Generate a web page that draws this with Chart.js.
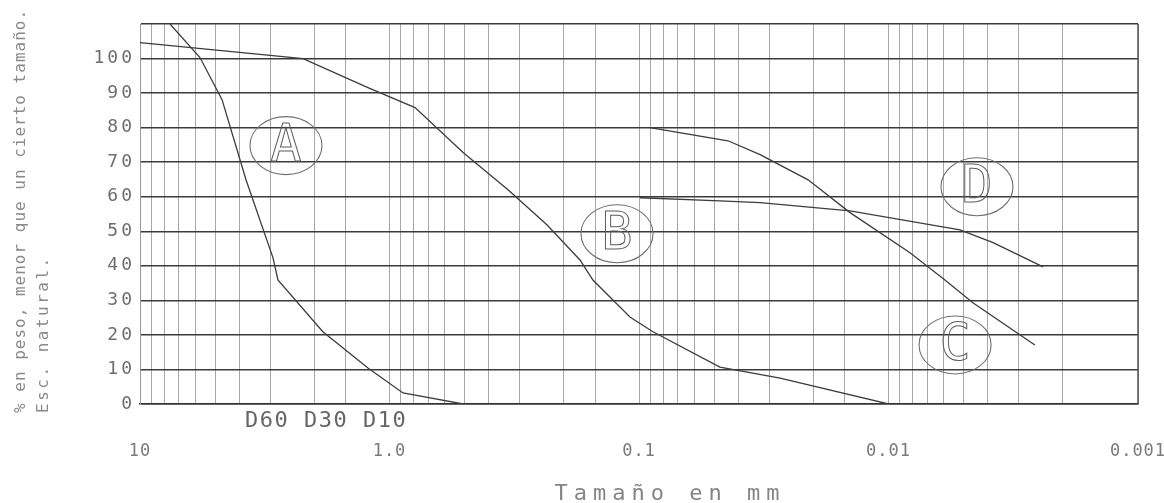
<!DOCTYPE html>
<html lang="es">
<head>
<meta charset="utf-8">
<title>Curvas granulométricas</title>
<script src="https://cdn.jsdelivr.net/npm/chart.js@4.4.1/dist/chart.umd.min.js"></script>
<style>
    html, body { margin: 0; padding: 0; background: #ffffff; }
    #caja { width: 1164px; height: 503px; position: relative; }
</style>
</head>
<body>
<div id="caja"><canvas id="granulometria"></canvas></div>
<script>
// -------------------------------------------------------
// DATOS
// -------------------------------------------------------
const xTickValues = [10, 1, 0.1, 0.01, 0.001];
const xTickLabels = ['10', '1.0', '0.1', '0.01', '0.001'];
const yTickMax = 110;
const yTickStep = 10;

// Curva A
const tamanoA = [7.58, 5.75, 4.69, 3.76, 2.93, 2.80, 1.85, 1.22, 0.883, 0.507];
const pasaA   = [110, 100.3, 88.1, 64.9, 42.3, 35.9, 20.9, 10.4, 3.2, 0];

// Curva B
const tamanoB = [10, 2.22, 1.22, 0.790, 0.507, 0.335, 0.234, 0.1724, 0.153, 0.1087, 0.0879, 0.0474, 0.0272, 0.01];
const pasaB   = [104.6, 100, 91.6, 85.8, 72.8, 62.0, 51.9, 41.7, 35.9, 25.2, 20.9, 10.7, 7.5, 0];

// Curva C
const tamanoC = [0.0904, 0.044, 0.0327, 0.021, 0.01426, 0.0082, 0.00594, 0.00459, 0.00259];
const pasaC   = [80, 76.2, 72.2, 64.9, 55.4, 43.8, 35.9, 29.3, 17.1];

// Curva D
const tamanoD = [0.0991, 0.0474, 0.0327, 0.01426, 0.00517, 0.00381, 0.0024];
const pasaD   = [59.7, 58.8, 58.3, 55.9, 50.4, 46.7, 39.7];

// Etiquetas en círculo: letra, tamaño, % que pasa
const letras       = ['A', 'B', 'C', 'D'];
const letrasTamano = [2.60, 0.1225, 0.00541, 0.00442];
const letrasPasa   = [74.8, 49.3, 17.1, 62.9];

const tituloX  = 'Tamaño en mm';
const tituloY1 = '% en peso, menor que un cierto tamaño.';
const tituloY2 = 'Esc. natural.';
const textoD   = 'D60 D30 D10';

// -------------------------------------------------------
// helpers
// -------------------------------------------------------
function puntos(xs, ys) {
    return xs.map((x, i) => ({ x: x, y: ys[i] }));
}

function serie(nombre, xs, ys) {
    return {
        label: nombre,
        data: puntos(xs, ys),
        borderColor: '#3c3c3c',
        borderWidth: 1.3,
        pointRadius: 0,
        tension: 0,
        fill: false
    };
}

const MONO = "'DejaVu Sans Mono', monospace";

// espaciado de letras para los ticks (fuente tipo CAD)
// eje y: 3px (se dibuja antes de las curvas), eje x: 1px (z = 1, después)
const espaciado = {
    id: 'espaciado',
    beforeDraw(chart) { chart.ctx.letterSpacing = '3px'; },
    afterDatasetsDraw(chart) { chart.ctx.letterSpacing = '1px'; },
    afterDraw(chart) { chart.ctx.letterSpacing = '0px'; }
};

// marco, círculos con letras y textos sueltos
const anotaciones = {
    id: 'anotaciones',
    afterDatasetsDraw(chart) {
        const ctx = chart.ctx;
        const area = chart.chartArea;
        const sx = chart.scales.x;
        const sy = chart.scales.y;

        ctx.save();
        ctx.letterSpacing = '0px';
        // borde derecho
        ctx.strokeStyle = '#555';
        ctx.lineWidth = 1.5;
        ctx.beginPath();
        ctx.moveTo(area.right, area.top);
        ctx.lineTo(area.right, area.bottom);
        ctx.stroke();

        // círculos A B C D
        ctx.font = '52px ' + MONO;
        ctx.textAlign = 'center';
        ctx.textBaseline = 'middle';
        letras.forEach((l, i) => {
            const cx = sx.getPixelForValue(letrasTamano[i]);
            const cy = sy.getPixelForValue(letrasPasa[i]);
            ctx.strokeStyle = '#707070';
            ctx.lineWidth = 1.1;
            ctx.beginPath();
            ctx.ellipse(cx, cy, 36, 29, 0, 0, Math.PI * 2);
            ctx.stroke();
            ctx.lineWidth = 1;
            ctx.strokeStyle = '#606060';
            ctx.strokeText(l, cx, cy + 2);
        });
        ctx.restore();
    },
    afterDraw(chart) {
        const ctx = chart.ctx;
        const area = chart.chartArea;
        ctx.save();
        ctx.fillStyle = '#777';
        ctx.textBaseline = 'middle';

        // D60 D30 D10
        ctx.font = '22px ' + MONO;
        ctx.letterSpacing = '1.5px';
        ctx.textAlign = 'left';
        ctx.fillStyle = '#666';
        ctx.fillText(textoD, 245, area.bottom + 17);

        // título eje x
        ctx.font = '22px ' + MONO;
        ctx.letterSpacing = '6px';
        ctx.textAlign = 'center';
        ctx.fillStyle = '#858585';
        ctx.fillText(tituloX, 670, 494);

        // título eje y (dos líneas giradas)
        ctx.textAlign = 'left';
        ctx.fillStyle = '#8a8a8a';
        ctx.font = '16px ' + MONO;
        ctx.save();
        ctx.translate(21, 413);
        ctx.rotate(-Math.PI / 2);
        ctx.letterSpacing = '1px';
        ctx.fillText(tituloY1, 0, 0);
        ctx.restore();
        ctx.save();
        ctx.translate(44, 413);
        ctx.rotate(-Math.PI / 2);
        ctx.letterSpacing = '2.5px';
        ctx.fillText(tituloY2, 0, 0);
        ctx.restore();

        ctx.restore();
    }
};

// -------------------------------------------------------
// GRÁFICO
// -------------------------------------------------------
const ctxGran = document.getElementById('granulometria');

new Chart(ctxGran, {
    type: 'line',
    data: {
        datasets: [
            serie('A', tamanoA, pasaA),
            serie('B', tamanoB, pasaB),
            serie('C', tamanoC, pasaC),
            serie('D', tamanoD, pasaD)
        ]
    },
    options: {
        responsive: true,
        maintainAspectRatio: false,
        animation: false,
        devicePixelRatio: 1,
        layout: { padding: { top: 24, right: 26, left: 0, bottom: 0 } },
        plugins: {
            legend: { display: false },
            tooltip: { enabled: false }
        },
        scales: {
            x: {
                type: 'logarithmic',
                min: 0.001,
                max: 10,
                reverse: true,
                afterFit(scale) {
                    scale.height = 99;
                    scale.paddingLeft = 0;
                    scale.paddingRight = 0;
                },
                grid: { color: '#a8a8a8', lineWidth: 1, drawTicks: false },
                border: { color: '#333', width: 1.6 },
                ticks: {
                    z: 1,
                    autoSkip: false,
                    maxRotation: 0,
                    padding: 37,
                    color: '#7a7a7a',
                    font: { family: MONO, size: 17 },
                    callback: function(value) {
                        const i = xTickValues.findIndex(t => Math.abs(Math.log10(t) - Math.log10(value)) < 1e-6);
                        return i >= 0 ? xTickLabels[i] : '';
                    }
                }
            },
            y: {
                type: 'linear',
                min: 0,
                max: yTickMax,
                afterFit(scale) { scale.width = 140; },
                grid: { color: '#3a3a3a', lineWidth: 1.4, drawTicks: false },
                border: { color: '#9a9a9a', width: 1 },
                ticks: {
                    stepSize: yTickStep,
                    padding: 5,
                    color: '#6e6e6e',
                    font: { family: MONO, size: 18 },
                    callback: v => (v <= 100 ? String(v) : '')
                }
            }
        }
    },
    plugins: [espaciado, anotaciones]
});
</script>
</body>
</html>
